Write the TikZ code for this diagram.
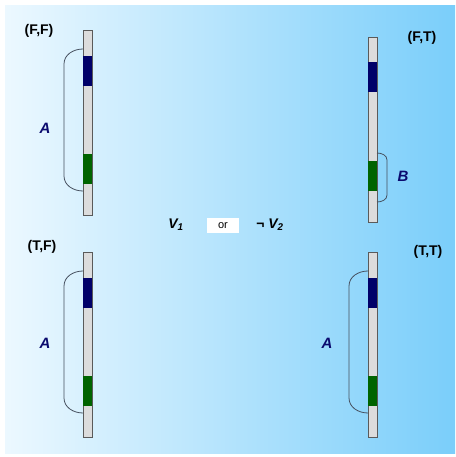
\documentclass[tikz,border=0pt]{standalone}
\usepackage{fontspec}
\setmainfont{Liberation Sans}
\usetikzlibrary{arrows.meta}
\definecolor{bgleft}{RGB}{236,248,255}
\definecolor{bgright}{RGB}{122,206,250}
\definecolor{bargray}{RGB}{220,220,220}
\definecolor{barline}{RGB}{90,90,90}
\definecolor{navy}{RGB}{0,0,105}
\definecolor{leaf}{RGB}{0,100,0}
\definecolor{bracecol}{RGB}{70,80,95}
\definecolor{labblue}{RGB}{10,10,110}

\begin{document}
\begin{tikzpicture}[x=1pt,y=-1pt,
    bar/.style={draw=barline, fill=bargray, line width=0.8pt, minimum width=9pt, minimum height=185pt, inner sep=0pt},
    blk/.style={minimum width=9pt, minimum height=30pt, inner sep=0pt},
    brace/.style={draw=bracecol, line width=0.8pt},
    pair/.style={font=\fontsize{14}{14}\selectfont\bfseries},
    seg/.style={font=\fontsize{15}{15}\selectfont\bfseries\itshape, text=labblue}]
  \useasboundingbox (0,0) rectangle (455,457);
  \shade[left color=bgleft, right color=bgright] (5,6) rectangle (455,453);

  % bars
  \node[bar] (FF) at (87.5,123)   {};
  \node[bar] (FT) at (372.5,129.5) {};
  \node[bar] (TF) at (87.5,345)   {};
  \node[bar] (TT) at (372.5,345)  {};
  \node[blk, fill=navy] (FFb) at (87.5,71)   {};
  \node[blk, fill=leaf] (FFg) at (87.5,169)  {};
  \node[blk, fill=navy] (FTb) at (372.5,77)  {};
  \node[blk, fill=leaf] (FTg) at (372.5,176) {};
  \node[blk, fill=navy] (TFb) at (87.5,293)  {};
  \node[blk, fill=leaf] (TFg) at (87.5,391)  {};
  \node[blk, fill=navy] (TTb) at (372.5,293) {};
  \node[blk, fill=leaf] (TTg) at (372.5,391) {};

  % labels
  \node[pair] (lFF) at (39,31)  {(F,F)};
  \node[pair] (lFT) at (422,38) {(F,T)};
  \node[pair] (lTF) at (42,247) {(T,F)};
  \node[pair] (lTT) at (428,252) {(T,T)};
  \node[seg] (aFF) at (45,128) {A};
  \node[seg] (bFT) at (403,176) {B};
  \node[seg] (aTF) at (45,343) {A};
  \node[seg] (aTT) at (327,343) {A};

  \node[font=\fontsize{14}{14}\selectfont\bfseries\itshape] (v1) at (176,225) {V\textsubscript{1}};
  \node[fill=white, minimum width=32pt, minimum height=15pt, inner sep=0pt,
        font=\fontsize{11}{11}\selectfont] (or) at (223,225.5) {or\hspace{6pt}};
  \node[font=\fontsize{14}{14}\selectfont\bfseries\itshape] (v2) at (270,225) {¬ V\textsubscript{2}};

  % braces
  \coordinate (FFt) at (83,49);  \coordinate (FFe) at (83,191);
  \coordinate (FTt) at (377,153); \coordinate (FTe) at (377,202);
  \coordinate (TFt) at (83,271); \coordinate (TFe) at (83,413);
  \coordinate (TTt) at (368,271); \coordinate (TTe) at (368,413);
  \draw[brace] (FFt) to[out=180,in=90] (64,64) -- (64,176) to[out=-90,in=180] (FFe);
  \draw[brace] (TFt) to[out=180,in=90] (64,286) -- (64,398) to[out=-90,in=180] (TFe);
  \draw[brace] (TTt) to[out=180,in=90] (349,286) -- (349,398) to[out=-90,in=180] (TTe);
  \draw[brace] (FTt) to[out=0,in=90] (387,160) -- (387,195) to[out=-90,in=0] (FTe);
\end{tikzpicture}
\end{document}
